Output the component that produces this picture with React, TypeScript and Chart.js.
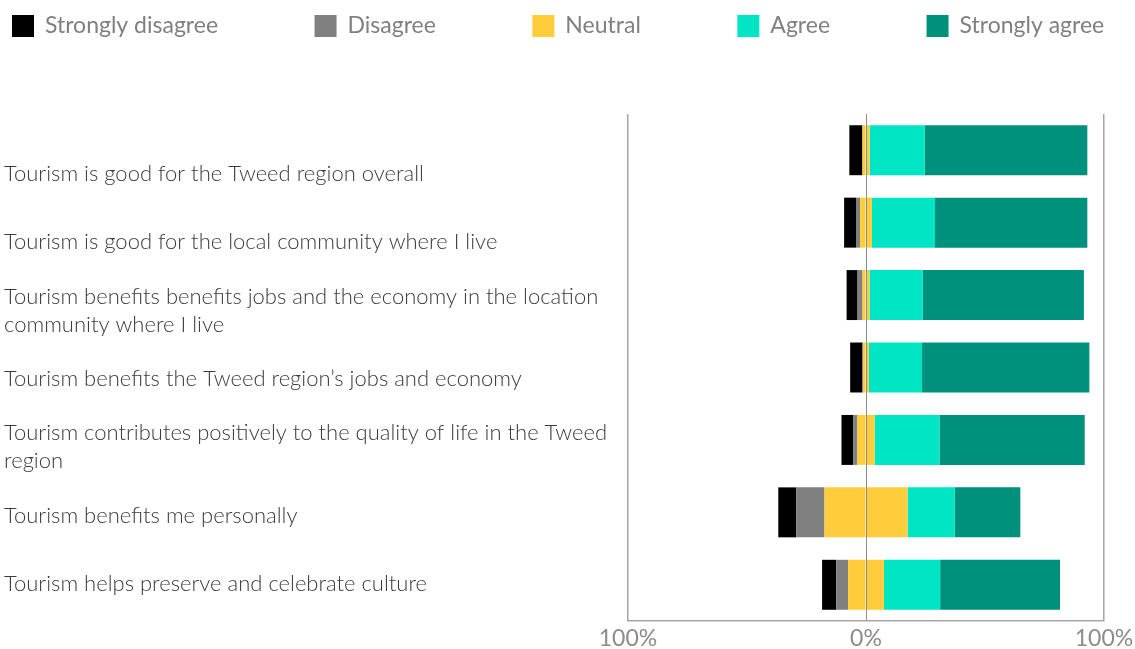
import React, { useEffect, useRef } from "react";
import { Chart, registerables } from "chart.js";

Chart.register(...registerables);

const categories: (string | string[])[] = [
  "Tourism is good for the Tweed region overall",
  "Tourism is good for the local community where I live",
  ["Tourism benefits benefits jobs and the economy in the location", "community where I live"],
  "Tourism benefits the Tweed region\u2019s jobs and economy",
  ["Tourism contributes positively to the quality of life in the Tweed", "region"],
  "Tourism benefits me personally",
  "Tourism helps preserve and celebrate culture",
];

const stronglyDisagree = [5.5, 5, 4.6, 5, 5, 7.6, 5.9];
const disagree = [0, 1.7, 2.1, 0.4, 1.7, 11.8, 5];
const neutral = [3, 5, 2.9, 2.5, 7.2, 34.9, 15.1];
const agree = [23.2, 26.5, 22.3, 22.3, 27.3, 19.8, 23.6];
const stronglyAgree = [68.3, 64, 67.8, 70.3, 61, 27.6, 50.4];

const seriesNames = ["Strongly disagree", "Disagree", "Neutral", "Agree", "Strongly agree"];
const seriesColors = ["#000000", "#808080", "#FFCD3C", "#00E5C3", "#00917C"];

const xTicks = [-100, 0, 100];

const legendPlugin = {
  id: "topLegend",
  afterDraw(chart: any) {
    const ctx = chart.ctx;
    ctx.save();
    ctx.font = "400 23px Lato";
    ctx.textBaseline = "middle";
    ctx.textAlign = "left";
    let x = 12;
    const y = 26;
    seriesNames.forEach((name, i) => {
      ctx.fillStyle = seriesColors[i];
      ctx.fillRect(x, y - 11, 22, 22);
      ctx.fillStyle = "#808080";
      ctx.fillText(name, x + 33, y);
      x += 33 + ctx.measureText(name).width + 96.5;
    });
    ctx.restore();
  },
};

export default function App() {
  const ref = useRef<HTMLCanvasElement | null>(null);

  useEffect(() => {
    if (!ref.current) return;
    const flatLabels = categories.map((c) => (Array.isArray(c) ? c.join(" ") : c));
    const chart = new Chart(ref.current, {
      type: "bar",
      data: {
        labels: flatLabels,
        datasets: [
          { label: "Neutral", data: neutral.map((v) => -v / 2), backgroundColor: seriesColors[2] },
          { label: "Neutral", data: neutral.map((v) => v / 2), backgroundColor: seriesColors[2] },
          { label: "Disagree", data: disagree.map((v) => -v), backgroundColor: seriesColors[1] },
          { label: "Agree", data: agree, backgroundColor: seriesColors[3] },
          { label: "Strongly disagree", data: stronglyDisagree.map((v) => -v), backgroundColor: seriesColors[0] },
          { label: "Strongly agree", data: stronglyAgree, backgroundColor: seriesColors[4] },
        ].map((d) => ({ ...d, borderWidth: 0, barPercentage: 0.69, categoryPercentage: 1, yAxisID: "y" })),
      },
      options: {
        indexAxis: "y",
        animation: false,
        responsive: true,
        maintainAspectRatio: false,
        layout: { padding: { top: 114, left: 4, right: 31, bottom: 0 } },
        plugins: {
          legend: { display: false },
          tooltip: { enabled: false },
        },
        scales: {
          x: {
            type: "linear",
            min: -100,
            max: 100,
            stacked: true,
            afterBuildTicks: (s: any) => {
              s.ticks = xTicks.map((v) => ({ value: v }));
            },
            afterFit: (s: any) => {
              s.height = 28;
              s.paddingLeft = 0;
              s.paddingRight = 0;
            },
            ticks: {
              callback: (v: any) => Math.abs(Number(v)) + "%",
              font: { family: "Lato", size: 23 },
              color: "#8c8c8c",
              padding: 4,
              maxRotation: 0,
              autoSkip: false,
            },
            grid: {
              drawTicks: false,
              color: (c: any) => (c.tick && c.tick.value === 0 ? "#8c8c8c" : "#a6a6a6"),
              lineWidth: (c: any) => (c.tick && c.tick.value === 0 ? 1 : 1.5),
              z: 1,
            },
            border: { display: true, color: "#a6a6a6", width: 1.5, z: 2 },
          },
          y: {
            type: "category",
            stacked: true,
            display: false,
            offset: true,
          },
          y2: {
            type: "linear",
            position: "left",
            bounds: "data",
            offset: false,
            min: -0.878,
            max: 6.5415,
            reverse: true,
            afterBuildTicks: (s: any) => {
              s.ticks = categories.map((_, i) => ({ value: i }));
            },
            afterFit: (s: any) => {
              s.width = 624;
            },
            ticks: {
              callback: (v: any) => categories[Math.round(Number(v))] as any,
              crossAlign: "far",
              autoSkip: false,
              font: { family: "Lato", size: 22, weight: "300", lineHeight: 1.27 },
              color: "#3b3b3b",
            },
            grid: { display: false, drawTicks: false, offset: false },
            border: { display: false },
          },
        },
      } as any,
      plugins: [legendPlugin],
    });
    return () => chart.destroy();
  }, []);

  return (
    <div style={{ position: "fixed", left: 0, top: 0, width: 1135, height: 649, background: "#fff" }}>
      <canvas ref={ref} />
    </div>
  );
}
